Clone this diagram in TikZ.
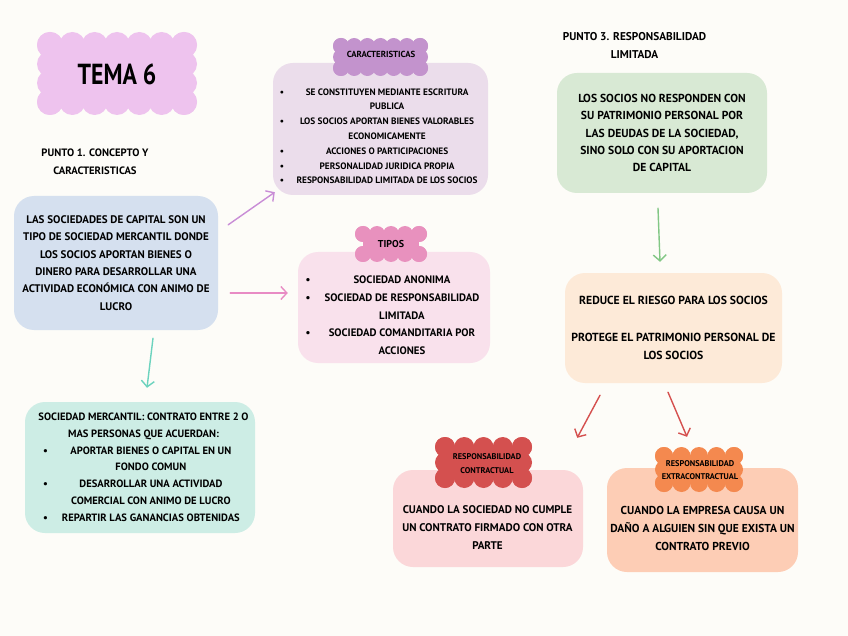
\documentclass[tikz,border=0pt]{standalone}
\usepackage{fontspec}
\setmainfont{PT Sans}
\usepackage{array}
\usepackage{graphicx}
\usetikzlibrary{arrows.meta,calc}
\definecolor{bg}{HTML}{FDFCF8}
\definecolor{temac}{HTML}{EEC3EE}
\definecolor{blueb}{HTML}{D5E0EF}
\definecolor{carb}{HTML}{EBDDEB}
\definecolor{carc}{HTML}{C393CD}
\definecolor{tipb}{HTML}{F9E1EC}
\definecolor{tipc}{HTML}{E891BE}
\definecolor{greenb}{HTML}{D8E9D4}
\definecolor{peachb}{HTML}{FDEAD8}
\definecolor{conb}{HTML}{FBD7D9}
\definecolor{conc}{HTML}{D4504F}
\definecolor{extb}{HTML}{FDCDB5}
\definecolor{extc}{HTML}{F4894F}
\definecolor{mintb}{HTML}{CDEDE5}
\definecolor{apurple}{HTML}{C98DD6}
\definecolor{apink}{HTML}{E88BC4}
\definecolor{ateal}{HTML}{6CD3BE}
\definecolor{agreen}{HTML}{82C785}
\definecolor{ared}{HTML}{D5504F}
\newcommand\scallop[6]{%
  \pgfmathsetmacro\sclA{#2+#6}%
  \pgfmathsetmacro\sclB{#3+#6}%
  \pgfmathsetmacro\sclC{#4-#6}%
  \pgfmathsetmacro\sclD{#5-#6}%
  \pgfmathtruncatemacro\sclNx{max(1,round((\sclC-\sclA)/(1.75*#6)))}%
  \pgfmathtruncatemacro\sclNy{max(1,round((\sclD-\sclB)/(1.75*#6)))}%
  \fill[#1] (\sclA,\sclB) rectangle (\sclC,\sclD);
  \foreach \i in {0,...,\sclNx}{\fill[#1] ({\sclA+(\sclC-\sclA)*\i/\sclNx},\sclB) circle[radius=#6pt] ({\sclA+(\sclC-\sclA)*\i/\sclNx},\sclD) circle[radius=#6pt];}
  \foreach \j in {0,...,\sclNy}{\fill[#1] (\sclA,{\sclB+(\sclD-\sclB)*\j/\sclNy}) circle[radius=#6pt] (\sclC,{\sclB+(\sclD-\sclB)*\j/\sclNy}) circle[radius=#6pt];}
}
\begin{document}
\begin{tikzpicture}[x=1pt,y=-1pt,
  box/.style={rounded corners=20pt, inner sep=0pt, align=center},
  txt/.style={inner sep=0pt, align=center},
  arr/.style={line width=1.4pt, line cap=round, -{Straight Barb[length=6pt,width=13pt,line width=1.4pt]}}]
\fill[bg] (0,0) rectangle (848,636);
\useasboundingbox (0,0) rectangle (848,636);

% TEMA 6
\scallop{temac}{37}{32}{197}{115}{13}
\node[txt, font=\fontsize{29}{30}\selectfont\bfseries] (tema) at (117,74) {\scalebox{0.82}[1]{TEMA 6}};

% Punto 1
\node[txt, font=\fontsize{10.7}{18}\selectfont\bfseries] (p1) at (95,162) {PUNTO 1. CONCEPTO Y\\CARACTERISTICAS};

% concept box
\node[box, fill=blueb, minimum width=204pt, minimum height=134pt, font=\fontsize{11}{17.4}\selectfont\bfseries] (concepto) at (116,263) {LAS SOCIEDADES DE CAPITAL SON UN\\TIPO DE SOCIEDAD MERCANTIL DONDE\\LOS SOCIOS APORTAN BIENES O\\DINERO PARA DESARROLLAR UNA\\ACTIVIDAD ECONÓMICA CON ANIMO DE\\LUCRO};

% caracteristicas
\node[box, fill=carb, minimum width=215pt, minimum height=132pt] (car) at (380.5,129) {};
\scallop{carc}{333}{38}{428}{76}{8}
\node[txt, font=\fontsize{8.8}{9}\selectfont\bfseries] (carcl) at (381,54) {CARACTERISTICAS};
\node[txt, font=\fontsize{9.3}{14.8}\selectfont\bfseries] (cartext) at (381,136.5) {%
\begin{tabular}{@{}l@{\hspace{8pt}}>{\centering\arraybackslash}p{190pt}@{}}
\textbullet & SE CONSTITUYEN MEDIANTE ESCRITURA\\
 & PUBLICA\\
\textbullet & LOS SOCIOS APORTAN BIENES VALORABLES\\
 & ECONOMICAMENTE\\
\textbullet & ACCIONES O PARTICIPACIONES\\
\textbullet & PERSONALIDAD JURIDICA PROPIA\\
\textbullet & RESPONSABILIDAD LIMITADA DE LOS SOCIOS
\end{tabular}};

% tipos
\node[box, fill=tipb, minimum width=192pt, minimum height=111pt] (tipos) at (394,307.5) {};
\scallop{tipc}{355}{226}{427}{262}{8}
\node[txt, font=\fontsize{10}{12}\selectfont\bfseries] (tipcl) at (391,244) {TIPOS};
\node[txt, font=\fontsize{10.8}{17.7}\selectfont\bfseries] (tiptext) at (395,315.5) {%
\begin{tabular}{@{}l@{\hspace{9pt}}>{\centering\arraybackslash}p{165pt}@{}}
\textbullet & SOCIEDAD ANONIMA\\
\textbullet & SOCIEDAD DE RESPONSABILIDAD\\
 & LIMITADA\\
\textbullet & SOCIEDAD COMANDITARIA POR\\
 & ACCIONES
\end{tabular}};

% mercantil
\node[box, fill=mintb, minimum width=230pt, minimum height=131pt] (merc) at (140,467.5) {};
\node[txt, font=\fontsize{10.6}{16.8}\selectfont\bfseries] (merctext) at (143.5,467.5) {%
\begin{tabular}{@{}l@{\hspace{10pt}}>{\centering\arraybackslash}p{186pt}@{}}
\multicolumn{2}{@{}c@{}}{\makebox[0pt]{SOCIEDAD MERCANTIL: CONTRATO ENTRE 2 O}}\\
\multicolumn{2}{@{}c@{}}{\makebox[0pt]{MAS PERSONAS QUE ACUERDAN:}}\\
\textbullet & APORTAR BIENES O CAPITAL EN UN\\
 & FONDO COMUN\\
\textbullet & DESARROLLAR UNA ACTIVIDAD\\
 & COMERCIAL CON ANIMO DE LUCRO\\
\textbullet & REPARTIR LAS GANANCIAS OBTENIDAS
\end{tabular}};

% Punto 3
\node[txt, font=\fontsize{11.3}{18}\selectfont\bfseries] (p3) at (634.5,46) {PUNTO 3. RESPONSABILIDAD\\LIMITADA};
\node[box, fill=greenb, minimum width=210pt, minimum height=120pt, font=\fontsize{11.6}{17.3}\selectfont\bfseries] (resp) at (662,133) {LOS SOCIOS NO RESPONDEN CON\\SU PATRIMONIO PERSONAL POR\\LAS DEUDAS DE LA SOCIEDAD,\\SINO SOLO CON SU APORTACION\\DE CAPITAL};

\node[box, fill=peachb, minimum width=217pt, minimum height=110pt, font=\fontsize{11.7}{18.5}\selectfont\bfseries] (reduce) at (673.5,328) {REDUCE EL RIESGO PARA LOS SOCIOS\\[18.5pt]PROTEGE EL PATRIMONIO PERSONAL DE\\LOS SOCIOS};

% contractual
\node[box, fill=conb, minimum width=190pt, minimum height=97pt] (con) at (488,518.5) {};
\scallop{conc}{435}{437}{532}{488}{10}
\node[txt, font=\fontsize{8.3}{14}\selectfont\bfseries] (concl) at (487,464) {RESPONSABILIDAD\\CONTRACTUAL};
\node[txt, font=\fontsize{11.1}{18}\selectfont\bfseries] (context) at (487.5,528) {CUANDO LA SOCIEDAD NO CUMPLE\\UN CONTRATO FIRMADO CON OTRA\\PARTE};

% extracontractual
\node[box, fill=extb, minimum width=191pt, minimum height=104pt] (ext) at (702.5,520) {};
\scallop{extc}{655}{447}{743}{492}{9}
\node[txt, font=\fontsize{8.3}{13}\selectfont\bfseries] (extcl) at (700,470.5) {RESPONSABILIDAD\\EXTRACONTRACTUAL};
\node[txt, font=\fontsize{11.5}{18}\selectfont\bfseries] (exttext) at (702.5,528) {CUANDO LA EMPRESA CAUSA UN\\DAÑO A ALGUIEN SIN QUE EXISTA UN\\CONTRATO PREVIO};

% arrows
\draw[arr, apurple] ($(concepto.north east)+(10,29)$) -- ($(car.south west)+(2,-3)$);
\draw[arr, apink] ($(concepto.east)+(12,30)$) -- ($(tipos.west)+(-10,-14.5)$);
\draw[arr, ateal] ($(concepto.south)+(37,8)$) -- ($(merc.north)+(7,-14)$);
\draw[arr, agreen] ($(resp.south)+(-4,15)$) -- ($(reduce.north)+(-13.5,-11)$);
\draw[arr, ared] ($(reduce.south)+(-73.5,12)$) -- ($(con.north east)+(-6,-32)$);
\draw[arr, ared] ($(reduce.south)+(-5.5,9)$) -- ($(ext.north)+(-15.5,-31)$);
\end{tikzpicture}
\end{document}
